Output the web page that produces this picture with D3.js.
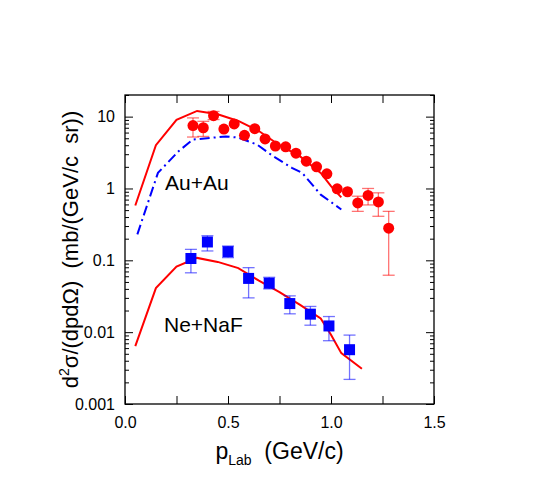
<!DOCTYPE html>
<html>
<head>
<meta charset="utf-8">
<script src="https://cdn.jsdelivr.net/npm/d3@7"></script>
<style>
  body { margin: 0; background: #fff; }
  text { font-family: Arial, "Liberation Sans", Helvetica, sans-serif; fill: #000; }
  .tick line { stroke: #000; stroke-width: 1; }
</style>
</head>
<body>
<div id="chart"></div>
<script>
// Au+Au data (red circles)
var auP = [0.33, 0.38, 0.43, 0.48, 0.53, 0.58, 0.63, 0.68, 0.73, 0.78, 0.83, 0.88, 0.93, 0.98, 1.03, 1.08, 1.13, 1.18, 1.23, 1.28]
var auY = [7.5, 7.0, 10.3, 6.7, 7.9, 5.5, 6.8, 4.9, 3.9, 3.8, 3.1, 2.4, 2.0, 1.6, 0.99, 0.90, 0.63, 0.80, 0.65, 0.28]
var auLo = [5.2, 5.3, 9.1, null, null, null, null, null, null, null, null, null, null, null, null, null, 0.48, 0.59, 0.41, 0.062]
var auHi = [9.6, 8.6, 11.8, null, null, null, null, null, null, null, null, null, null, null, null, null, 0.78, 1.0, 0.87, 0.48]

// Ne+NaF data (blue squares)
var neP = [0.32, 0.40, 0.50, 0.60, 0.70, 0.80, 0.90, 0.99, 1.09]
var neY = [0.106, 0.18, 0.132, 0.056, 0.048, 0.025, 0.0178, 0.0122, 0.0057]
var neLo = [0.067, 0.135, 0.109, 0.030, 0.040, 0.018, 0.0125, 0.0076, 0.0022]
var neHi = [0.142, 0.22, 0.158, 0.079, 0.058, 0.032, 0.0228, 0.0165, 0.0091]

// model curves
var auModelP = [0.05, 0.15, 0.25, 0.35, 0.45, 0.55, 0.65, 0.75, 0.85, 0.95, 1.00, 1.05]
var auModelY = [0.58, 4.0, 9.0, 12.0, 10.8, 8.7, 6.3, 4.0, 2.8, 1.65, 1.08, 0.75]
var auAltP = [0.06, 0.16, 0.26, 0.33, 0.49, 0.55, 0.64, 0.72, 0.81, 0.86, 0.95, 1.05]
var auAltY = [0.23, 1.65, 3.3, 4.8, 5.3, 5.1, 4.1, 2.8, 1.94, 1.65, 0.82, 0.51]
var neModelP = [0.05, 0.15, 0.25, 0.35, 0.45, 0.55, 0.65, 0.75, 0.85, 0.95, 1.00, 1.05, 1.15]
var neModelY = [0.0064, 0.041, 0.082, 0.108, 0.095, 0.078, 0.052, 0.036, 0.024, 0.0155, 0.0092, 0.0051, 0.0031]

var xTicks = [0, 0.25, 0.5, 0.75, 1.0, 1.25, 1.5]
var yTicks = [0.001, 0.01, 0.1, 1, 10]
var yLabels = ['0.001', '0.01', '0.1', '1', '10']

var width = 545, height = 483
var margin = {left: 125, right: 111, top: 95, bottom: 79}
var w = width - margin.left - margin.right
var h = height - margin.top - margin.bottom

var x = d3.scaleLinear().domain([0, 1.5]).range([0, w])
var y = d3.scaleLog().domain([0.001, 20]).range([h, 0])

var svg = d3.select('#chart').append('svg').attr('width', width).attr('height', height)
var g = svg.append('g').attr('transform', 'translate(' + margin.left + ',' + margin.top + ')')

// minor y ticks
var minors = []
for (var e = -3; e <= 1; e++) {
  for (var m = 2; m <= 9; m++) {
    var v = m * Math.pow(10, e)
    if (v <= 20) minors.push(v)
  }
}

g.append('g').attr('transform', 'translate(0,' + h + ')')
  .call(d3.axisBottom(x).tickValues(xTicks).tickSize(-8).tickPadding(13)
    .tickFormat(function(d) { return (Math.abs(d * 2 - Math.round(d * 2)) < 1e-6) ? d3.format('.1f')(d) : '' }))
  .call(function(a) { a.select('.domain').remove(); a.selectAll('text').style('font-size', '16px') })
g.append('g')
  .call(d3.axisTop(x).tickValues(xTicks).tickSize(-8).tickFormat(''))
  .call(function(a) { a.select('.domain').remove() })

g.append('g')
  .call(d3.axisLeft(y).tickValues(yTicks).tickSize(-8).tickPadding(10)
    .tickFormat(function(d, i) { return yLabels[i] }))
  .call(function(a) { a.select('.domain').remove(); a.selectAll('text').style('font-size', '16px') })
g.append('g')
  .call(d3.axisLeft(y).tickValues(minors).tickSize(-4).tickFormat(''))
  .call(function(a) { a.select('.domain').remove() })
g.append('g').attr('transform', 'translate(' + w + ',0)')
  .call(d3.axisRight(y).tickValues(yTicks).tickSize(-8).tickFormat(''))
  .call(function(a) { a.select('.domain').remove() })
g.append('g').attr('transform', 'translate(' + w + ',0)')
  .call(d3.axisRight(y).tickValues(minors).tickSize(-4).tickFormat(''))
  .call(function(a) { a.select('.domain').remove() })

g.append('rect').attr('width', w).attr('height', h)
  .attr('fill', 'none').attr('stroke', '#000').attr('stroke-width', 1.3)

var line = d3.line().x(function(d) { return x(d[0]) }).y(function(d) { return y(d[1]) })

g.append('path').datum(d3.zip(auModelP, auModelY)).attr('d', line)
  .attr('fill', 'none').attr('stroke', '#ff0000').attr('stroke-width', 2)
g.append('path').datum(d3.zip(auAltP, auAltY)).attr('d', line)
  .attr('fill', 'none').attr('stroke', '#0000ff').attr('stroke-width', 2)
  .attr('stroke-dasharray', '10,4,2,4')
g.append('path').datum(d3.zip(neModelP, neModelY)).attr('d', line)
  .attr('fill', 'none').attr('stroke', '#ff0000').attr('stroke-width', 2)

// error bars
function errBars(ps, lo, hi, col) {
  var rows = []
  for (var i = 0; i < ps.length; i++) if (lo[i] != null) rows.push([ps[i], lo[i], hi[i]])
  var eb = g.append('g').attr('stroke', col).attr('stroke-width', 1.3).attr('stroke-opacity', 0.55)
  eb.selectAll('.v').data(rows).join('line')
    .attr('x1', d => x(d[0])).attr('x2', d => x(d[0])).attr('y1', d => y(d[1])).attr('y2', d => y(d[2]))
  eb.selectAll('.lo').data(rows).join('line')
    .attr('x1', d => x(d[0]) - 6).attr('x2', d => x(d[0]) + 6).attr('y1', d => y(d[1])).attr('y2', d => y(d[1]))
  eb.selectAll('.hi').data(rows).join('line')
    .attr('x1', d => x(d[0]) - 6).attr('x2', d => x(d[0]) + 6).attr('y1', d => y(d[2])).attr('y2', d => y(d[2]))
}
errBars(auP, auLo, auHi, '#ff0000')
errBars(neP, neLo, neHi, '#0000ff')

g.append('g').selectAll('circle').data(d3.zip(auP, auY)).join('circle')
  .attr('cx', d => x(d[0])).attr('cy', d => y(d[1])).attr('r', 5.5).attr('fill', '#ff0000')
g.append('g').selectAll('rect').data(d3.zip(neP, neY)).join('rect')
  .attr('x', d => x(d[0]) - 5.5).attr('y', d => y(d[1]) - 5.5).attr('width', 11).attr('height', 11)
  .attr('fill', '#0000ff')

// labels inside
g.append('text').attr('x', 40).attr('y', 95).style('font-size', '21px').text('Au+Au')
g.append('text').attr('x', 39).attr('y', 237).style('font-size', '21px').text('Ne+NaF')

// axis titles
var xt = svg.append('text').attr('x', margin.left + w / 2).attr('y', 459)
  .attr('text-anchor', 'middle').style('font-size', '23px').style('white-space', 'pre')
xt.append('tspan').text('p')
xt.append('tspan').attr('dy', 6).style('font-size', '14px').text('Lab')
xt.append('tspan').attr('dy', -6).text('  (GeV/c)')

var yt = svg.append('text').attr('transform', 'translate(78,' + (margin.top + h / 2) + ') rotate(-90)')
  .attr('text-anchor', 'middle').style('font-size', '22px').style('white-space', 'pre')
yt.append('tspan').text('d')
yt.append('tspan').attr('dy', -9).style('font-size', '14px').text('2')
yt.append('tspan').attr('dy', 9).text('σ/(dpdΩ)  (mb/(GeV/c  sr))')
</script>
</body>
</html>
